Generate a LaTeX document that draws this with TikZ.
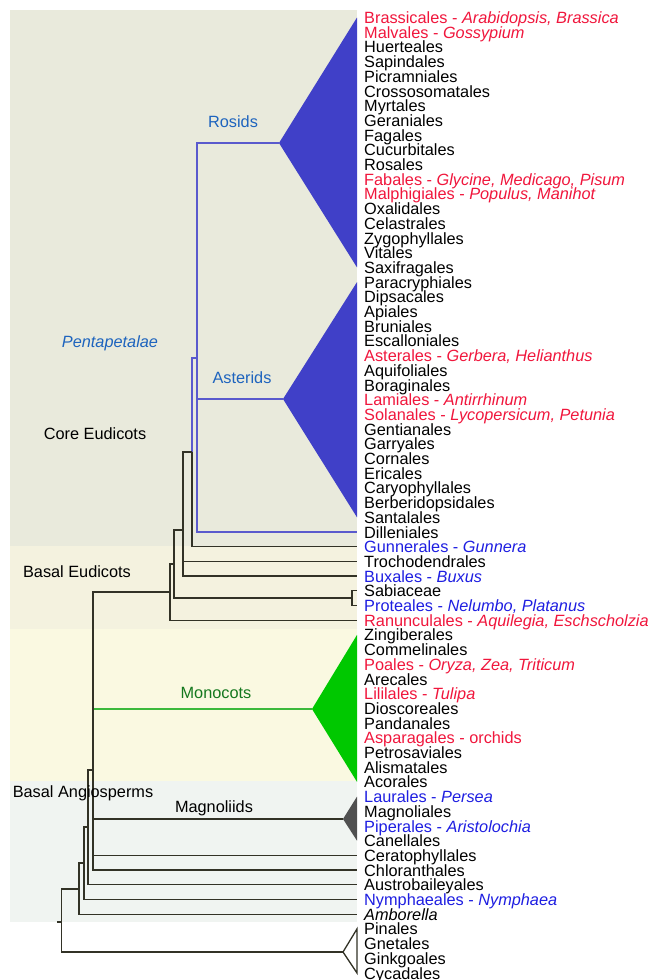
\documentclass[tikz,border=0pt]{standalone}
\usepackage{fontspec}
\setmainfont{Liberation Sans}
\usepackage{xcolor}
\definecolor{coreband}{RGB}{233,234,220}
\definecolor{basalband}{RGB}{244,242,223}
\definecolor{monoband}{RGB}{250,249,225}
\definecolor{angioband}{RGB}{240,244,241}
\definecolor{leafred}{RGB}{240,22,60}
\definecolor{leafblue}{RGB}{30,30,225}
\definecolor{cladeblue}{RGB}{30,100,190}
\definecolor{pentablue}{RGB}{90,90,205}
\definecolor{astfill}{RGB}{64,64,200}
\definecolor{monofill}{RGB}{0,200,0}
\definecolor{monoline}{RGB}{60,185,60}
\definecolor{monotext}{RGB}{20,120,30}
\definecolor{magfill}{RGB}{80,80,80}
\definecolor{branchcol}{RGB}{50,50,38}
\newcommand{\redtx}[1]{\textcolor{leafred}{#1}}
\newcommand{\bluetx}[1]{\textcolor{leafblue}{#1}}

\begin{document}
\begin{tikzpicture}[x=1pt, y=-1pt,
	branch/.style={draw=branchcol, line width=1.3pt},
	pentabranch/.style={draw=pentablue, line width=1.3pt},
	monobranch/.style={draw=monoline, line width=1.3pt},
	leaf/.style={anchor=west, inner sep=0pt, text height=13pt, text depth=1pt,
		font=\fontsize{16.3}{16}\selectfont},
	cladename/.style={inner sep=0pt, font=\fontsize{16.3}{16}\selectfont}]
	\def\rowsep{14.7}
	\def\tipx{357}
	\useasboundingbox (0,0) rectangle (660,980);
	% bands
	\fill[coreband] (10,10) rectangle (\tipx,546);
	\fill[basalband] (10,546) rectangle (\tipx,629);
	\fill[monoband] (10,629) rectangle (\tipx,781);
	\fill[angioband] (10,781) rectangle (\tipx,922);
	% tips of the rows
	\foreach \i in {1,...,66} {
		\coordinate (t\i) at (\tipx,{17.5+(\i-1)*\rowsep});
	}
	% collapsed clades
	\coordinate (ros) at (279,143);
	\coordinate (ast) at (283,399);
	\coordinate (mon) at (312,709);
	\coordinate (mag) at (343,819);
	\coordinate (gym) at (343,952);
	\fill[astfill] (ros) -- (t1) -- (t18) -- cycle;
	\fill[astfill] (ast) -- (t19) -- (t35) -- cycle;
	\fill[monofill] (mon) -- (t43) -- (t53) -- cycle;
	\fill[magfill] (mag) -- (t54) -- (t57) -- cycle;
	\draw[branch, fill=white] (gym) -- (t63) -- (t66) -- cycle;
	% inner nodes
	\coordinate (pent) at (197,358);
	\coordinate (core) at (192,452);
	\coordinate (n3) at (183,530);
	\coordinate (n4) at (174,564);
	\coordinate (sabpro) at (352,598);
	\coordinate (eud) at (170,592);
	\coordinate (mesa) at (93,770);
	\coordinate (n6) at (88,827);
	\coordinate (n7) at (84,863);
	\coordinate (angio) at (79,889);
	\coordinate (root) at (61.5,922);
	% branches
	\draw[pentabranch] (pent) |- (ros);
	\draw[pentabranch] (pent) |- (ast);
	\draw[pentabranch] (pent) |- (t36);
	\draw[pentabranch] (core) |- (pent);
	\draw[branch] (core) |- (t37);
	\draw[branch] (n3) |- (core);
	\draw[branch] (n3) |- (t38);
	\draw[branch] (n3) |- (t39);
	\draw[branch] (n4) |- (n3);
	\draw[branch] (n4) |- (sabpro);
	\draw[branch] (sabpro) |- (t40);
	\draw[branch] (sabpro) |- (t41);
	\draw[branch] (eud) |- (n4);
	\draw[branch] (eud) |- (t42);
	\draw[monobranch] (mesa) |- (mon);
	\draw[branch] (mesa) |- (eud);
	\draw[branch] (mesa) |- (mag);
	\draw[branch] (mesa) |- (t58);
	\draw[branch] (mesa) |- (t59);
	\draw[branch] (n6) |- (mesa);
	\draw[branch] (n6) |- (t60);
	\draw[branch] (n7) |- (n6);
	\draw[branch] (n7) |- (t61);
	\draw[branch] (angio) |- (n7);
	\draw[branch] (angio) |- (t62);
	\draw[branch] (root) |- (angio);
	\draw[branch] (root) |- (gym);
	\draw[branch] (root) -- ++(-4.5,0);
	% clade names
	\node[cladename, text=cladeblue] (rosname) at (233,122) {Rosids};
	\node[cladename, text=cladeblue] (pentname) at (110,343) {\textit{Pentapetalae}};
	\node[cladename, text=cladeblue] (astname) at (242,378) {Asterids};
	\node[cladename] (corename) at (95,434) {Core Eudicots};
	\node[cladename] (basalname) at (77,572) {Basal Eudicots};
	\node[cladename, text=monotext] (monname) at (216,693) {Monocots};
	\node[cladename] (angioname) at (83,793) {Basal Angiosperms};
	\node[cladename] (magname) at (214,808) {Magnoliids};
	% orders
	\foreach \i/\txt in {
		1/{\redtx{Brassicales - \textit{Arabidopsis, Brassica}}},
		2/{\redtx{Malvales - \textit{Gossypium}}},
		3/Huerteales, 4/Sapindales, 5/Picramniales, 6/Crossosomatales,
		7/Myrtales, 8/Geraniales, 9/Fagales, 10/Cucurbitales, 11/Rosales,
		12/{\redtx{Fabales - \textit{Glycine, Medicago, Pisum}}},
		13/{\redtx{Malphigiales - \textit{Populus, Manihot}}},
		14/Oxalidales, 15/Celastrales, 16/Zygophyllales, 17/Vitales,
		18/Saxifragales, 19/Paracryphiales, 20/Dipsacales, 21/Apiales,
		22/Bruniales, 23/Escalloniales,
		24/{\redtx{Asterales - \textit{Gerbera, Helianthus}}},
		25/Aquifoliales, 26/Boraginales,
		27/{\redtx{Lamiales - \textit{Antirrhinum}}},
		28/{\redtx{Solanales - \textit{Lycopersicum, Petunia}}},
		29/Gentianales, 30/Garryales, 31/Cornales, 32/Ericales,
		33/Caryophyllales, 34/Berberidopsidales, 35/Santalales, 36/Dilleniales,
		37/{\bluetx{Gunnerales - \textit{Gunnera}}},
		38/Trochodendrales,
		39/{\bluetx{Buxales - \textit{Buxus}}},
		40/Sabiaceae,
		41/{\bluetx{Proteales - \textit{Nelumbo, Platanus}}},
		42/{\redtx{Ranunculales - \textit{Aquilegia, Eschscholzia}}},
		43/Zingiberales, 44/Commelinales,
		45/{\redtx{Poales - \textit{Oryza, Zea, Triticum}}},
		46/Arecales,
		47/{\redtx{Lililales - \textit{Tulipa}}},
		48/Dioscoreales, 49/Pandanales,
		50/{\redtx{Asparagales - orchids}},
		51/Petrosaviales, 52/Alismatales, 53/Acorales,
		54/{\bluetx{Laurales - \textit{Persea}}},
		55/Magnoliales,
		56/{\bluetx{Piperales - \textit{Aristolochia}}},
		57/Canellales, 58/Ceratophyllales, 59/Chloranthales, 60/Austrobaileyales,
		61/{\bluetx{Nymphaeales - \textit{Nymphaea}}},
		62/{\textit{Amborella}},
		63/Pinales, 64/Gnetales, 65/Ginkgoales, 66/Cycadales} {
		\node[leaf] (l\i) at (364,{17.5+(\i-1)*\rowsep}) {\txt};
	}
\end{tikzpicture}
\end{document}
